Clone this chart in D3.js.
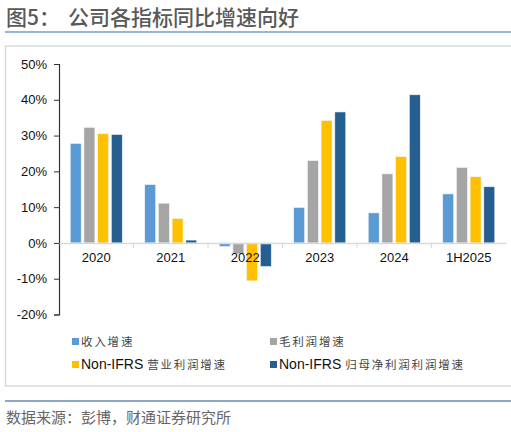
<!DOCTYPE html>
<html>
<head>
<meta charset="utf-8">
<script src="https://cdn.jsdelivr.net/npm/d3@7"></script>
<style>
  body { margin: 0; background: #fff; }
  svg text { font-family: "Liberation Sans", Arial, "Noto Sans CJK SC", sans-serif; }
</style>
</head>
<body>
<svg id="chart" width="511" height="432"></svg>
<script>
// ---- data ----
var categories = ["2020", "2021", "2022", "2023", "2024", "1H2025"];
var seriesNames = [
  ["", "收入增速"],
  ["", "毛利润增速"],
  ["Non-IFRS ", "营业利润增速"],
  ["Non-IFRS ", "归母净利润利润增速"]
];
var revenue     = [27.8, 16.3, -1.0,  9.9,  8.4, 13.7];
var grossProfit = [32.3, 11.1, -3.1, 23.0, 19.3, 21.1];
var opProfit    = [30.5,  6.8, -10.6, 34.2, 24.1, 18.5];
var netProfit   = [30.3,  0.8, -6.6, 36.6, 41.4, 15.7];
var yTicks = [-20, -10, 0, 10, 20, 30, 40, 50];

var seriesValues = [revenue, grossProfit, opProfit, netProfit];
var colors = ["#5B9BD5", "#A5A5A5", "#FFC000", "#255E91"];

var svg = d3.select("#chart");

// title + rules
svg.append("text").attr("x", 6).attr("y", 25).attr("fill", "#595959")
  .style("font-size", "21px").style("font-weight", 500)
  .style("font-family", "'Noto Sans CJK SC', sans-serif").text("图5：");
svg.append("text").attr("x", 68).attr("y", 25).attr("fill", "#595959")
  .style("font-size", "21px").style("font-weight", 500)
  .style("font-family", "'Noto Sans CJK SC', sans-serif").text("公司各指标同比增速向好");
svg.append("line").attr("x1", 5).attr("x2", 511).attr("y1", 32).attr("y2", 32)
  .attr("stroke", "#2F6DB5").attr("stroke-width", 1.2);

// chart box
svg.append("rect").attr("x", 5.5).attr("y", 46).attr("width", 520).attr("height", 340)
  .attr("fill", "none").attr("stroke", "#D9D9D9").attr("stroke-width", 1.5);

// bottom rule + source
svg.append("line").attr("x1", 5).attr("x2", 511).attr("y1", 401).attr("y2", 401)
  .attr("stroke", "#1F4E8C").attr("stroke-width", 1.2);
svg.append("text").attr("x", 6).attr("y", 423).attr("fill", "#666")
  .style("font-size", "15px").style("font-family", "'Noto Sans CJK SC', sans-serif")
  .text("数据来源：彭博，财通证券研究所");

// scales
var x0 = d3.scaleBand().domain(categories).range([59, 506]).padding(0);
var x1 = d3.scaleBand().domain(d3.range(seriesValues.length)).range([0, x0.bandwidth()])
  .paddingInner(0.2).paddingOuter(0.82);
var y = d3.scaleLinear().domain([-20, 50]).range([314.5, 64]);

// y axis
var yAxis = svg.append("g").attr("transform", "translate(59,0)")
  .call(d3.axisLeft(y).tickValues(yTicks).tickSize(5).tickPadding(7).tickFormat(function(d) { return d + "%"; }));
yAxis.select(".domain").attr("stroke", "#333").attr("stroke-width", 1.2);
yAxis.selectAll(".tick line").attr("stroke", "#333");
yAxis.selectAll("text").style("font-size", "13px").attr("fill", "#111");

// bars
var groups = svg.append("g").selectAll("g").data(categories).join("g")
  .attr("transform", function(d) { return "translate(" + x0(d) + ",0)"; });
groups.selectAll("rect")
  .data(function(d, i) { return seriesValues.map(function(s, k) { return { k: k, v: s[i] }; }); })
  .join("rect")
  .attr("x", function(d) { return x1(d.k); })
  .attr("width", x1.bandwidth())
  .attr("y", function(d) { return y(Math.max(0, d.v)); })
  .attr("height", function(d) { return Math.abs(y(d.v) - y(0)); })
  .attr("fill", function(d) { return colors[d.k]; })
  .attr("stroke", "#f4f4f4").attr("stroke-width", 0.6);

// x axis at zero
var xAxis = svg.append("g").attr("transform", "translate(0," + y(0) + ")")
  .call(d3.axisBottom(x0).tickSize(0).tickPadding(10));
xAxis.select(".domain").attr("stroke", "#D9D9D9").attr("stroke-width", 1.5);
xAxis.selectAll("text").style("font-size", "13px").attr("fill", "#111");
svg.append("g").selectAll("line").data(categories.slice(1)).join("line")
  .attr("x1", function(d) { return x0(d); }).attr("x2", function(d) { return x0(d); })
  .attr("y1", y(0)).attr("y2", y(0) + 5)
  .attr("stroke", "#D9D9D9").attr("stroke-width", 1);

// legend
var legendPos = [[72, 344], [270, 344], [72, 367], [270, 367]];
var legend = svg.append("g").selectAll("g").data(seriesNames).join("g")
  .attr("transform", function(d, i) { return "translate(" + legendPos[i][0] + "," + legendPos[i][1] + ")"; });
legend.append("rect").attr("x", 0).attr("y", -6).attr("width", 7).attr("height", 7)
  .attr("fill", function(d, i) { return colors[i]; });
var lt = legend.append("text").attr("x", 9).attr("y", 2);
lt.append("tspan").style("font-size", "14px").attr("fill", "#111").text(function(d) { return d[0]; });
lt.append("tspan").style("font-size", "11.5px").style("font-family", "'Noto Sans CJK SC', sans-serif")
  .style("letter-spacing", "1.8px").attr("fill", "#444").text(function(d) { return d[1]; });
</script>
</body>
</html>
